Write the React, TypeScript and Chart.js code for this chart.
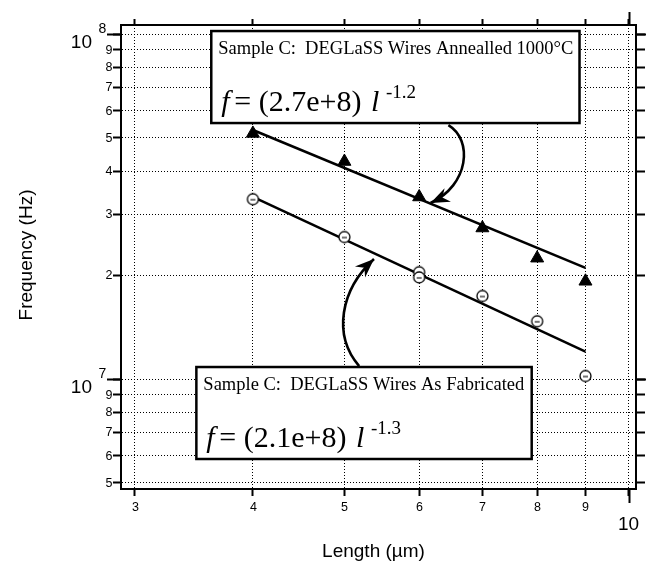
import React, { useEffect, useRef } from 'react';
import { Chart, registerables } from 'chart.js';

Chart.register(...registerables);

// ---------- data ----------
const LENGTHS_ANNEALED = [4, 5, 6, 7, 8, 9];
const FREQ_ANNEALED = [5.15e7, 4.27e7, 3.37e7, 2.74e7, 2.24e7, 1.92e7];
const LENGTHS_FABRICATED = [4, 5, 6, 6, 7, 8, 9];
const FREQ_FABRICATED = [3.32e7, 2.58e7, 2.04e7, 1.97e7, 1.74e7, 1.47e7, 1.02e7];
const FIT_LENGTHS = [4, 9];
const FIT_ANNEALED = [5.27e7, 2.1e7];
const FIT_FABRICATED = [3.37e7, 1.2e7];

const X_TICKS = [3, 4, 5, 6, 7, 8, 9, 10];
const X_TICK_LABELS = ['3', '4', '5', '6', '7', '8', '9', '10'];
const X_MAJOR = [false, false, false, false, false, false, false, true];
const Y_TICKS = [5e6, 6e6, 7e6, 8e6, 9e6, 1e7, 2e7, 3e7, 4e7, 5e7, 6e7, 7e7, 8e7, 9e7, 1e8];
const Y_TICK_LABELS = ['5', '6', '7', '8', '9', '10^7', '2', '3', '4', '5', '6', '7', '8', '9', '10^8'];

const X_TITLE = 'Length (µm)';
const Y_TITLE = 'Frequency (Hz)';

const ANNOT_TITLES = ['Sample C:  DEGLaSS Wires Annealled 1000°C', 'Sample C:  DEGLaSS Wires As Fabricated'];
const ANNOT_COEFFS = ['(2.7e+8)', '(2.1e+8)'];
const ANNOT_EXPONENTS = ['-1.2', '-1.3'];

// ---------- layout (data-space anchors for annotations) ----------
const X_MIN = 2.928;
const X_MAX = 10.18;
const Y_MIN = 4.8e6;
const Y_MAX = 1.062e8;

const BOX_X = [[3.614, 8.87], [3.485, 7.894]];
const BOX_Y = [[1.02e8, 5.52e7], [1.0834e7, 5.864e6]];
const ARROWS = [
  [[6.443, 5.447e7], [6.844, 4.929e7], [6.778, 3.651e7], [6.169, 3.237e7]],
  [[5.183, 1.0906e7], [4.856, 1.3416e7], [4.951, 1.8116e7], [5.374, 2.2271e7]],
];

const SANS = "'Liberation Sans', Arial, Helvetica, sans-serif";
const SERIF = "'Liberation Serif', 'Times New Roman', serif";

function makeCirclePoint(): HTMLCanvasElement {
  const c = document.createElement('canvas');
  c.width = 15;
  c.height = 15;
  const g = c.getContext('2d')!;
  g.beginPath();
  g.arc(7.5, 7.5, 5.5, 0, Math.PI * 2);
  g.fillStyle = '#fff';
  g.fill();
  g.lineWidth = 1.3;
  g.strokeStyle = '#000';
  g.stroke();
  g.beginPath();
  g.moveTo(5, 8);
  g.lineTo(10, 8);
  g.lineWidth = 1.1;
  g.stroke();
  return c;
}

const annotPlugin = {
  id: 'annot',
  afterDatasetsDraw(chart: any) {
    const { ctx } = chart;
    const xs = chart.scales.x;
    const ys = chart.scales.y;
    ctx.save();
    // boxes
    for (let i = 0; i < BOX_X.length; i++) {
      const l = xs.getPixelForValue(BOX_X[i][0]);
      const r = xs.getPixelForValue(BOX_X[i][1]);
      const t = ys.getPixelForValue(BOX_Y[i][0]);
      const b = ys.getPixelForValue(BOX_Y[i][1]);
      ctx.fillStyle = '#fff';
      ctx.fillRect(l, t, r - l, b - t);
      ctx.lineWidth = 2.5;
      ctx.strokeStyle = '#000';
      ctx.strokeRect(l, t, r - l, b - t);
      ctx.fillStyle = '#000';
      ctx.textAlign = 'left';
      ctx.textBaseline = 'alphabetic';
      ctx.font = `18.5px ${SERIF}`;
      ctx.fillText(ANNOT_TITLES[i], l + 7, t + 23);
      const base = t + 80;
      const xf = l + 10;
      ctx.font = `italic 30px ${SERIF}`;
      ctx.fillText('f', xf, base);
      ctx.font = `30px ${SERIF}`;
      const xeq = xf + 13;
      ctx.fillText('=', xeq, base);
      const xp = xeq + ctx.measureText('= ').width;
      ctx.fillText(ANNOT_COEFFS[i], xp, base);
      const xl = xp + ctx.measureText(ANNOT_COEFFS[i] + ' ').width + 2;
      ctx.font = `italic 30px ${SERIF}`;
      ctx.fillText('l', xl, base);
      ctx.font = `19px ${SERIF}`;
      ctx.fillText(ANNOT_EXPONENTS[i], xl + 15, t + 67);
    }
    // arrows
    for (const a of ARROWS) {
      const p = a.map(([vx, vy]) => [xs.getPixelForValue(vx), ys.getPixelForValue(vy)]);
      ctx.beginPath();
      ctx.moveTo(p[0][0], p[0][1]);
      ctx.bezierCurveTo(p[1][0], p[1][1], p[2][0], p[2][1], p[3][0], p[3][1]);
      ctx.lineWidth = 2.6;
      ctx.strokeStyle = '#000';
      ctx.stroke();
      let dx = p[3][0] - p[2][0];
      let dy = p[3][1] - p[2][1];
      const len = Math.hypot(dx, dy);
      dx /= len;
      dy /= len;
      const L = 17;
      const W = 7.5;
      const bx = p[3][0] - dx * L;
      const by = p[3][1] - dy * L;
      const nx = -dy;
      const ny = dx;
      ctx.beginPath();
      ctx.moveTo(p[3][0], p[3][1]);
      ctx.lineTo(bx + nx * W - dx * 2, by + ny * W - dy * 2);
      ctx.lineTo(bx + dx * 4, by + dy * 4);
      ctx.lineTo(bx - nx * W - dx * 2, by - ny * W - dy * 2);
      ctx.closePath();
      ctx.fillStyle = '#000';
      ctx.fill();
    }
    ctx.restore();
  },
};

const labelsPlugin = {
  id: 'labels',
  afterDraw(chart: any) {
    const { ctx, chartArea: area } = chart;
    const xs = chart.scales.x;
    const ys = chart.scales.y;
    ctx.save();
    ctx.fillStyle = '#000';
    ctx.strokeStyle = '#000';
    ctx.lineWidth = 2;
    const line = (x1: number, y1: number, x2: number, y2: number) => {
      ctx.beginPath();
      ctx.moveTo(x1, y1);
      ctx.lineTo(x2, y2);
      ctx.stroke();
    };
    // x tick labels + major ticks
    X_TICKS.forEach((v, i) => {
      const px = Math.round(xs.getPixelForValue(v)) + 0.5;
      if (X_MAJOR[i]) {
        line(px, area.bottom, px, area.bottom + 14);
        line(px, area.top, px, area.top - 13);
        ctx.font = `19px ${SANS}`;
        ctx.textAlign = 'center';
        ctx.textBaseline = 'alphabetic';
        ctx.fillText(X_TICK_LABELS[i], px - 1, area.bottom + 41);
      } else {
        ctx.font = `12.5px ${SANS}`;
        ctx.textAlign = 'center';
        ctx.textBaseline = 'middle';
        ctx.fillText(X_TICK_LABELS[i], px, area.bottom + 18.5);
      }
    });
    // y tick labels + major ticks
    Y_TICKS.forEach((v, i) => {
      const py = Math.round(ys.getPixelForValue(v)) + 0.5;
      const lab = Y_TICK_LABELS[i];
      if (lab.includes('^')) {
        const [b, e] = lab.split('^');
        line(area.left - 14, py, area.left, py);
        line(area.right, py, area.right + 11, py);
        ctx.font = `19px ${SANS}`;
        ctx.textAlign = 'right';
        ctx.textBaseline = 'alphabetic';
        ctx.fillText(b, area.left - 29, py + 13);
        ctx.font = `14px ${SANS}`;
        ctx.textAlign = 'left';
        ctx.fillText(e, area.left - 22.5, py - 2);
      } else {
        ctx.font = `12.5px ${SANS}`;
        ctx.textAlign = 'right';
        ctx.textBaseline = 'middle';
        ctx.fillText(lab, area.left - 8.5, py);
      }
    });
    // axis titles
    ctx.font = `19px ${SANS}`;
    ctx.textAlign = 'center';
    ctx.textBaseline = 'alphabetic';
    ctx.fillText(X_TITLE, (area.left + area.right) / 2 - 5, area.bottom + 68);
    ctx.save();
    ctx.translate(32, (area.top + area.bottom) / 2 - 2);
    ctx.rotate(-Math.PI / 2);
    ctx.fillText(Y_TITLE, 0, 0);
    ctx.restore();
    ctx.restore();
  },
};

function gridOpts(onArea: boolean, tickLength: number) {
  return {
    display: true,
    drawOnChartArea: onArea,
    drawTicks: true,
    color: '#000',
    lineWidth: 1,
    tickColor: '#000',
    tickWidth: 2,
    tickLength,
    tickBorderDash: [],
  };
}
const borderOpts = { display: true, color: '#000', width: 2, dash: [1, 2] };

export default function App() {
  const ref = useRef<HTMLCanvasElement>(null);
  useEffect(() => {
    const circle = makeCirclePoint();
    const xTicks = (s: any) => {
      s.ticks = X_TICKS.map((v) => ({ value: v }));
    };
    const yTicks = (s: any) => {
      s.ticks = Y_TICKS.map((v) => ({ value: v }));
    };
    const chart = new Chart(ref.current!, {
      type: 'scatter',
      data: {
        datasets: [
          {
            label: 'Annealled',
            data: LENGTHS_ANNEALED.map((x, i) => ({ x, y: FREQ_ANNEALED[i] })),
            pointStyle: 'triangle',
            pointRadius: 7.5,
            backgroundColor: '#000',
            borderColor: '#000',
            borderWidth: 1,
            order: 1,
          },
          {
            label: 'As Fabricated',
            data: LENGTHS_FABRICATED.map((x, i) => ({ x, y: FREQ_FABRICATED[i] })),
            pointStyle: circle as any,
            pointRadius: 6,
            order: 1,
          },
          {
            label: 'Fit Annealled',
            data: FIT_LENGTHS.map((x, i) => ({ x, y: FIT_ANNEALED[i] })),
            showLine: true,
            pointRadius: 0,
            borderColor: '#000',
            borderWidth: 2.5,
            order: 2,
          },
          {
            label: 'Fit As Fabricated',
            data: FIT_LENGTHS.map((x, i) => ({ x, y: FIT_FABRICATED[i] })),
            showLine: true,
            pointRadius: 0,
            borderColor: '#000',
            borderWidth: 2.5,
            order: 2,
          },
        ],
      },
      options: {
        animation: false,
        responsive: false,
        devicePixelRatio: 1,
        layout: { padding: 0 },
        plugins: { legend: { display: false }, tooltip: { enabled: false } },
        scales: {
          x: {
            type: 'logarithmic',
            position: 'bottom',
            min: X_MIN,
            max: X_MAX,
            afterBuildTicks: xTicks,
            afterFit: (s: any) => {
              s.height = 73;
            },
            ticks: { display: false },
            grid: gridOpts(true, 7),
            border: borderOpts,
          },
          x2: {
            type: 'logarithmic',
            position: 'top',
            min: X_MIN,
            max: X_MAX,
            afterBuildTicks: xTicks,
            afterFit: (s: any) => {
              s.height = 25;
            },
            ticks: { display: false },
            grid: gridOpts(false, 6),
            border: borderOpts,
          },
          y: {
            type: 'logarithmic',
            position: 'left',
            min: Y_MIN,
            max: Y_MAX,
            afterBuildTicks: yTicks,
            afterFit: (s: any) => {
              s.width = 121;
            },
            ticks: { display: false },
            grid: gridOpts(true, 8),
            border: borderOpts,
          },
          y2: {
            type: 'logarithmic',
            position: 'right',
            min: Y_MIN,
            max: Y_MAX,
            afterBuildTicks: yTicks,
            afterFit: (s: any) => {
              s.width = 10;
            },
            ticks: { display: false },
            grid: gridOpts(false, 9),
            border: borderOpts,
          },
        } as any,
      },
      plugins: [annotPlugin, labelsPlugin],
    } as any);
    return () => chart.destroy();
  }, []);
  return (
    <div style={{ position: 'absolute', left: 0, top: 0, width: 646, height: 562, background: '#fff' }}>
      <canvas ref={ref} width={646} height={562} style={{ display: 'block', width: 646, height: 562 }} />
    </div>
  );
}
